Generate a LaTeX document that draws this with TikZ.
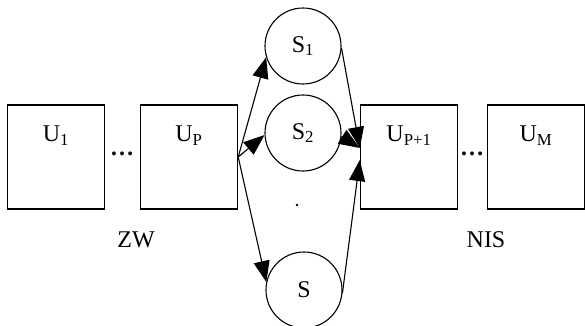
\documentclass[tikz,border=0pt]{standalone}
\usepackage{fontspec}
\setmainfont{Liberation Serif}
\usetikzlibrary{positioning,arrows.meta,calc}
\tikzset{
  unit/.style={draw,line width=1.4pt,minimum width=97pt,minimum height=104pt,inner sep=0pt},
  sat/.style={draw,circle,line width=1.1pt,minimum size=76pt,inner sep=0pt},
  flow/.style={line width=1.1pt,-{Triangle[length=21pt,width=16pt]}},
  lbl/.style={anchor=base,inner sep=0pt}
}
\newcommand{\unitlabel}[2]{%
  \node[lbl] (#1t) at ($(#1.north)+(0,37)$) {#2};
}

\begin{document}
\begin{tikzpicture}[x=1pt,y=-1pt,font=\fontsize{24}{28}\selectfont]
  \useasboundingbox (0,0) rectangle (585,325);
  % units in the ZW part
  \node[unit] (u1) at (56,157) {};
  \node[unit] (up) at (189,157) {};
  \unitlabel{u1}{U\textsubscript{1}}
  \unitlabel{up}{U\textsubscript{P}}
  \node[lbl] (dl) at (122,155) {\textbf{\ldots}};
  \node[lbl] (zw) at (136,247) {ZW};
  % units in the NIS part
  \node[unit] (upp) at (409,157) {};
  \node[unit] (um) at (536,157) {};
  \unitlabel{upp}{U\textsubscript{P+1}}
  \unitlabel{um}{U\textsubscript{M}}
  \node[lbl] (dr) at (472,155) {\textbf{\ldots}};
  \node[lbl] (nis) at (486,247) {NIS};
  % the parallel stages
  \node[sat] (s1) at (303,46) {S\textsubscript{1}};
  \node[sat] (s2) at (303,133) {S\textsubscript{2}};
  \node[sat] (s3) at (304,290) {S};
  \fill (297,205) circle (1.3);
  % connectors
  \coordinate (out) at (up.east);
  \coordinate (in1) at ($(upp.west)+(0,-9)$);
  \coordinate (in2) at ($(upp.west)+(0,3)$);
  \draw[flow] (out) -- (s1.197);
  \draw[flow] (out) -- (s2.183);
  \draw[flow] (out) -- (s3.168);
  \draw[flow] (s1.-3) -- (in1);
  \draw[flow] (s2.-5) -- (in1);
  \draw[flow] (s3.-5) -- (in2);
\end{tikzpicture}
\end{document}
